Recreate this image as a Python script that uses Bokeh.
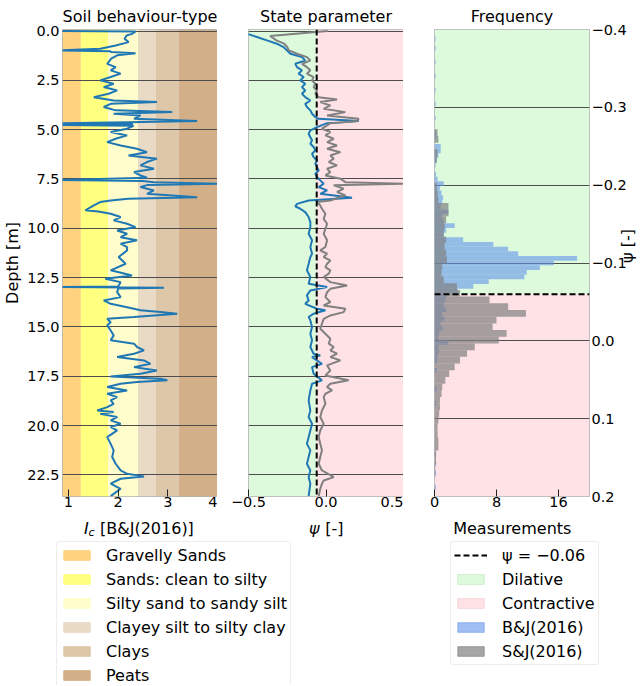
import math
from bokeh.plotting import figure
from bokeh.models import (Range1d, FixedTicker, Label, Legend, LegendItem,
                          CustomJSTickFormatter, Span)
from bokeh.layouts import row, column
from bokeh.embed import file_html
from bokeh.resources import INLINE

FONT = "DejaVu Sans"

# ---------------------------------------------------------------- data
IC_DEPTH = [0.00, 0.02, 0.14, 0.22, 0.39, 0.56, 0.73, 0.90, 0.98, 1.02, 1.06, 1.12, 1.23, 1.40,
            1.66, 1.83, 1.99, 2.16, 2.33, 2.50, 2.67, 2.84, 3.01, 3.18, 3.35, 3.52, 3.60, 3.69,
            3.85, 4.02, 4.10, 4.19, 4.28, 4.45, 4.56, 4.62, 4.68, 4.72, 4.76, 4.80, 4.95, 5.12,
            5.29, 5.46, 5.63, 5.80, 5.97, 6.14, 6.31, 6.47, 6.64, 6.81, 6.98, 7.15, 7.32, 7.44,
            7.55, 7.60, 7.66, 7.74, 7.80, 7.91, 8.08, 8.25, 8.42, 8.50, 8.59, 8.67, 8.84, 9.09,
            9.15, 9.26, 9.43, 9.60, 9.77, 9.94, 10.11, 10.28, 10.45, 10.61, 10.78, 10.95, 11.12,
            11.46, 11.80, 12.13, 12.39, 12.56, 12.73, 12.95, 12.98, 13.01, 13.05, 13.24, 13.49,
            13.66, 13.83, 14.00, 14.16, 14.25, 14.33, 14.50, 14.59, 14.76, 14.92, 15.18, 15.43,
            15.68, 15.85, 16.02, 16.19, 16.36, 16.53, 16.70, 16.87, 17.04, 17.21, 17.38, 17.51,
            17.63, 17.71, 17.80, 17.88, 18.05, 18.22, 18.39, 18.56, 18.73, 18.90, 19.07, 19.24,
            19.32, 19.41, 19.57, 19.74, 19.91, 20.08, 20.25, 20.59, 20.93, 21.26, 21.60, 21.94,
            22.28, 22.45, 22.58, 22.70, 22.95, 23.21, 23.58]
IC_VALUE = [0.80, 2.35, 2.28, 2.17, 2.13, 2.21, 1.95, 1.64, 0.85, 1.85, 1.85, 2.35, 1.98, 1.86,
            1.78, 1.95, 1.85, 2.05, 1.85, 1.64, 1.91, 1.71, 1.98, 1.81, 1.51, 1.91, 2.78, 1.85,
            1.71, 1.95, 3.09, 1.91, 2.45, 2.32, 3.59, 2.20, 0.85, 2.30, 0.85, 2.31, 2.18, 1.85,
            2.18, 1.95, 1.78, 2.05, 2.38, 2.58, 2.21, 2.78, 2.58, 2.45, 2.72, 2.32, 2.45, 2.58,
            0.85, 2.50, 2.72, 4.05, 2.60, 2.45, 2.72, 2.58, 3.59, 2.20, 1.85, 1.64, 1.51, 1.34,
            1.60, 1.85, 2.05, 1.91, 2.18, 2.35, 1.98, 2.18, 2.05, 2.38, 2.05, 2.18, 2.18,
            2.01, 2.15, 1.85, 2.28, 1.74, 2.05, 2.00, 0.85, 2.92, 2.00, 1.98, 2.05,
            1.71, 1.85, 2.18, 2.45, 2.85, 3.19, 2.32, 1.78, 1.85, 1.78, 1.85, 1.91,
            1.85, 2.32, 2.38, 2.52, 2.32, 1.98, 2.52, 2.65, 2.32, 2.78, 2.45, 1.85,
            2.85, 2.99, 2.38, 2.05, 1.78, 2.18, 1.78, 1.98, 1.85, 1.91, 1.78, 1.58,
            1.91, 1.64, 1.98, 1.85, 2.05, 1.85, 1.98, 1.78, 1.85, 1.91, 1.88, 1.95,
            2.05, 2.18, 2.52, 2.05, 1.85, 2.05, 1.85]

PSI_BJ_DEPTH = [0.10, 0.30, 0.47, 0.64, 0.81, 0.98, 1.15, 1.32, 1.49, 1.66, 1.83, 1.99, 2.16,
                2.33, 2.50, 2.67, 2.84, 3.01, 3.18, 3.35, 3.52, 3.69, 3.85, 4.02, 4.19, 4.36,
                4.45, 4.56, 4.67, 4.87, 5.04, 5.21, 5.38, 5.54, 5.71, 5.88, 6.05, 6.22, 6.39,
                6.56, 6.73, 6.90, 7.07, 7.23, 7.40, 7.57, 7.74, 7.91, 8.08, 8.25, 8.45, 8.59,
                8.76, 8.89, 9.01, 9.18, 9.43, 9.69, 9.94, 10.28, 10.61, 10.95, 11.29, 11.46,
                11.80, 12.13, 12.47, 12.81, 12.98, 13.15, 13.40, 13.66, 13.83, 14.08, 14.16,
                14.33, 14.50, 14.67, 15.01, 15.35, 15.68, 16.02, 16.36, 16.45, 16.53, 16.87,
                17.04, 17.38, 17.71, 17.88, 18.22, 18.73, 19.24, 19.57, 19.91, 20.25, 20.59,
                20.93, 21.26, 21.60, 21.94, 22.28, 22.62, 22.95, 23.58]
PSI_BJ = [-0.52, -0.446, -0.381, -0.317, -0.274, -0.252, -0.230, -0.155, -0.134, -0.198, -0.187,
          -0.155, -0.177, -0.144, -0.166, -0.134, -0.155, -0.134, -0.155, -0.134, -0.101, -0.134,
          -0.123, -0.101, -0.090, -0.069, -0.047, 0.211, 0.007, -0.058, -0.101, -0.112, -0.101,
          -0.090, -0.101, -0.080, -0.069, -0.090, -0.080, -0.058, -0.069, -0.058, -0.047, -0.069,
          -0.058, -0.037, -0.015, -0.047, 0.007, -0.037, 0.168, -0.112, -0.187, -0.198, -0.166,
          -0.134, -0.112, -0.101, -0.101, -0.112, -0.090, -0.101, -0.090, -0.101, -0.112, -0.123,
          -0.101, -0.112, 0.007, -0.101, -0.123, -0.112, -0.134, -0.058, -0.004, -0.080, -0.112,
          -0.101, -0.090, -0.101, -0.090, -0.101, -0.080, -0.037, -0.090, -0.026, -0.090, -0.080,
          -0.026, -0.090, -0.101, -0.112, -0.101, -0.112, -0.090, -0.101, -0.112, -0.123, -0.101,
          -0.112, -0.123, -0.101, -0.112, -0.101, -0.112]

PSI_SJ_DEPTH = [0.00, 0.25, 0.47, 0.64, 0.81, 0.98, 1.15, 1.32, 1.49, 1.66, 1.83, 1.99, 2.16,
                2.33, 2.50, 2.67, 2.84, 3.01, 3.18, 3.35, 3.47, 3.60, 3.77, 3.94, 4.11, 4.28,
                4.45, 4.56, 4.67, 4.78, 4.95, 5.12, 5.29, 5.46, 5.63, 5.80, 5.97, 6.14, 6.31,
                6.47, 6.64, 6.81, 6.98, 7.15, 7.32, 7.49, 7.66, 7.74, 7.82, 7.99, 8.16, 8.33,
                8.50, 8.59, 8.67, 8.84, 9.01, 9.26, 9.52, 9.77, 10.03, 10.28, 10.61, 10.95,
                11.12, 11.29, 11.46, 11.63, 11.80, 11.97, 12.13, 12.30, 12.47, 12.73, 12.90,
                13.07, 13.24, 13.49, 13.74, 13.91, 14.08, 14.25, 14.42, 14.59, 14.84, 15.09,
                15.35, 15.60, 15.85, 16.02, 16.19, 16.36, 16.53, 16.70, 16.95, 17.21, 17.46,
                17.71, 17.88, 18.05, 18.22, 18.39, 18.56, 18.90, 19.24, 19.57, 19.91, 20.25,
                20.59, 20.93, 21.26, 21.60, 21.94, 22.28, 22.62, 22.79, 22.95, 23.21, 23.58]
PSI_SJ = [0.01, -0.36, -0.32, -0.27, -0.25, -0.24, -0.187, -0.123, -0.101, -0.155, -0.123,
          -0.101, -0.123, -0.080, -0.090, -0.069, -0.080, -0.058, -0.069, -0.047, 0.071, -0.037,
          0.028, -0.015, 0.125, 0.007, 0.211, 0.200, 0.028, 0.007, -0.026, 0.028, -0.004, 0.050,
          0.007, 0.071, 0.007, 0.093, 0.028, 0.050, 0.018, 0.071, 0.007, 0.028, -0.004, 0.093,
          0.125, 0.52, 0.050, 0.114, 0.071, 0.125, 0.060, 0.028, -0.058, -0.037, -0.026, -0.004,
          -0.015, 0.007, -0.004, -0.015, 0.007, -0.004, -0.037, 0.007, -0.015, 0.028, 0.007,
          -0.004, 0.028, 0.018, -0.015, 0.028, 0.136, 0.028, 0.007, -0.004, 0.028, -0.015, 0.125,
          0.114, 0.028, -0.015, -0.026, -0.037, -0.004, 0.028, 0.018, 0.050, 0.028, 0.071, 0.028,
          0.093, 0.007, 0.028, -0.004, 0.146, 0.028, 0.007, 0.039, -0.004, -0.015, -0.004,
          -0.026, -0.037, -0.015, -0.037, -0.047, -0.037, -0.026, -0.037, -0.047, -0.026, 0.050,
          -0.015, -0.026, -0.037, -0.047]

BJ_BIN_WIDTH = 0.006
BJ_BIN_START = [-0.391, -0.379, -0.361, -0.343, -0.325, -0.307, -0.289, -0.271, -0.265, -0.253,
                -0.247, -0.241, -0.235, -0.229, -0.217, -0.211, -0.205, -0.199, -0.193, -0.187,
                -0.181, -0.175, -0.169, -0.163, -0.157, -0.151, -0.145, -0.139, -0.133, -0.127,
                -0.121, -0.115, -0.109, -0.103, -0.097, -0.091, -0.085, -0.079, -0.073, -0.067,
                -0.061, -0.055, -0.049, -0.043, -0.037, -0.031, -0.025, -0.019, -0.013, -0.007,
                -0.001, 0.005, 0.011, 0.017, 0.023, 0.035, 0.059, 0.077, 0.143, 0.155, 0.167,
                0.185]
BJ_COUNT = [0.15, 0.15, 0.15, 0.15, 0.15, 0.15, 0.15, 0.2, 0.2, 0.8,
            0.8, 0.5, 0.3, 0.15, 0.2, 0.4, 1.2, 0.7, 0.9, 1.1,
            1.0, 0.8, 1.8, 1.0, 1.2, 2.6, 1.5, 1.2, 3.7, 7.6,
            9.5, 10.8, 18.4, 15.4, 13.6, 11.9, 11.6, 7.0, 5.0, 3.0,
            1.6, 1.4, 1.2, 1.5, 1.0, 1.3, 0.8, 1.0, 0.6, 0.5,
            1.8, 0.5, 0.6, 0.4, 0.3, 0.3, 0.3, 0.2, 0.2, 0.2, 0.2,
            0.2]

SJ_BIN_WIDTH = 0.0086
SJ_BIN_START = [-0.2718, -0.2632, -0.246, -0.2374, -0.203, -0.1944, -0.1858, -0.1772, -0.1686,
                -0.16, -0.1514, -0.1428, -0.1342, -0.1256, -0.117, -0.1084, -0.0998, -0.0912,
                -0.0826, -0.074, -0.0654, -0.0568, -0.0482, -0.0396, -0.031, -0.0224, -0.0138,
                -0.0052, 0.0034, 0.012, 0.0206, 0.0292, 0.0378, 0.0464, 0.055, 0.0636, 0.0722,
                0.0808, 0.0894, 0.098, 0.1066, 0.1152, 0.1238, 0.1324, 0.141, 0.1496, 0.1582,
                0.1668]
SJ_COUNT = [0.4, 0.5, 0.4, 0.3, 0.3, 0.4, 0.5, 1.8, 1.8,
            1.5, 1.3, 1.2, 1.5, 1.3, 1.5, 1.6, 1.0, 0.9,
            1.2, 2.9, 3.3, 7.1, 9.5, 11.8, 8.0, 7.5, 9.3,
            8.3, 5.2, 4.2, 3.3, 2.6, 1.9, 1.4, 1.0, 0.9, 0.7,
            0.7, 0.6, 0.5, 0.4, 0.4, 0.5, 0.5, 0.2, 0.2, 0.1,
            0.1]

SBT_NAMES = ["Gravelly Sands", "Sands: clean to silty", "Silty sand to sandy silt",
             "Clayey silt to silty clay", "Clays", "Peats"]
SBT_LIMITS = [1.25, 1.80, 2.40, 2.76, 3.22]
SBT_COLORS = ["#FFD27F", "#FFFF80", "#FFFDCC", "#E8DAC4", "#DEC7A8", "#D2AF87"]

PSI_BOUNDARY = -0.06
DEPTH_TICKS = [0.0, 2.5, 5.0, 7.5, 10.0, 12.5, 15.0, 17.5, 20.0, 22.5]
IC_TICKS = [1, 2, 3, 4]
PSI_TICKS = [-0.5, 0.0, 0.5]
COUNT_TICKS = [0, 8, 16]
PSI_HIST_TICKS = [-0.4, -0.3, -0.2, -0.1, 0.0, 0.1, 0.2]

DEPTH_RANGE = (-0.08, 23.6)
IC_RANGE = (0.88, 4.0)
PSI_RANGE = (-0.5, 0.5)
COUNT_RANGE = (0, 20)
PSI_HIST_RANGE = (-0.4, 0.2)

# ---------------------------------------------------------------- style
GREEN = "#DDFADD"
PINK = "#FFE2E5"
LINE_BLUE = "#1f77b4"
GRID = "#4d4d4d"
OUTLINE = "#b0b0b0"
FRAME_W, FRAME_H = 155, 467
TOP, BOTTOM = 29, 17
TICK_FS = "14.5px"
LABEL_FS = "16px"
fmt1 = CustomJSTickFormatter(code="return tick.toFixed(1).replace('-', '\\u2212');")


def base_fig(xr, yr, left, right, title, y_loc="left"):
    p = figure(frame_width=FRAME_W, frame_height=FRAME_H,
               x_range=Range1d(*xr), y_range=Range1d(*yr),
               output_backend="svg", toolbar_location=None,
               min_border_left=left, min_border_right=right,
               min_border_top=TOP, min_border_bottom=BOTTOM,
               y_axis_location=y_loc, title=title)
    p.title.align = "center"
    p.title.text_font = FONT
    p.title.text_font_size = LABEL_FS
    p.title.text_font_style = "normal"
    p.title.text_color = "black"
    p.title.standoff = 7
    p.outline_line_color = OUTLINE
    p.outline_line_width = 1
    p.xgrid.visible = False
    p.ygrid.grid_line_color = GRID
    p.ygrid.grid_line_width = 1
    p.background_fill_color = "white"
    for ax in p.xaxis:
        ax.major_tick_in = 7
        ax.major_tick_out = 0
        ax.minor_tick_line_color = None
        ax.major_tick_line_color = "#222222"
        ax.axis_line_color = None
        ax.major_label_standoff = 0
        ax.major_label_text_font = FONT
        ax.major_label_text_font_size = TICK_FS
        ax.major_label_text_color = "black"
    for ax in p.yaxis:
        ax.major_tick_in = 0
        ax.major_tick_out = 0
        ax.minor_tick_line_color = None
        ax.axis_line_color = None
        ax.major_label_standoff = 3
        ax.major_label_text_font = FONT
        ax.major_label_text_font_size = TICK_FS
        ax.major_label_text_color = "black"
        ax.axis_label_text_font = FONT
        ax.axis_label_text_font_size = LABEL_FS
        ax.axis_label_text_font_style = "normal"
        ax.axis_label_text_color = "black"
    return p


# ---------------------------------------------------------------- panel 1
p1 = base_fig(IC_RANGE, (DEPTH_RANGE[1], DEPTH_RANGE[0]), 62, 0, "Soil behaviour-type")
sbt_left = [IC_RANGE[0]] + SBT_LIMITS
sbt_right = SBT_LIMITS + [IC_RANGE[1]]
p1.quad(left=sbt_left, right=sbt_right, bottom=DEPTH_RANGE[1], top=DEPTH_RANGE[0],
        fill_color=SBT_COLORS, line_color=None, level="image")
p1.line(IC_VALUE, IC_DEPTH, line_color=LINE_BLUE, line_width=2)
p1.xaxis.ticker = FixedTicker(ticks=IC_TICKS)
p1.yaxis.ticker = FixedTicker(ticks=DEPTH_TICKS)
p1.ygrid.ticker = FixedTicker(ticks=DEPTH_TICKS)
p1.yaxis.formatter = fmt1
p1.yaxis.axis_label = "Depth [m]"
p1.yaxis.axis_label_standoff = 2

# ---------------------------------------------------------------- panel 2
p2 = base_fig(PSI_RANGE, (DEPTH_RANGE[1], DEPTH_RANGE[0]), 31, 0, "State parameter")
p2.yaxis.visible = False
p2.quad(left=[PSI_RANGE[0], PSI_BOUNDARY], right=[PSI_BOUNDARY, PSI_RANGE[1]],
        bottom=DEPTH_RANGE[1], top=DEPTH_RANGE[0], fill_color=[GREEN, PINK],
        line_color=None, level="image")
p2.line(PSI_BJ, PSI_BJ_DEPTH, line_color=LINE_BLUE, line_width=2)
p2.line(PSI_SJ, PSI_SJ_DEPTH, line_color="gray", line_width=2)
p2.add_layout(Span(location=PSI_BOUNDARY, dimension="height", line_color="black",
                   line_width=2, line_dash="6 3"))
p2.xaxis.ticker = FixedTicker(ticks=PSI_TICKS)
p2.xaxis.formatter = fmt1
p2.ygrid.ticker = FixedTicker(ticks=DEPTH_TICKS)

# ---------------------------------------------------------------- panel 3
p3 = base_fig(COUNT_RANGE, (PSI_HIST_RANGE[1], PSI_HIST_RANGE[0]), 31, 52, "Frequency",
              y_loc="right")
p3.quad(left=COUNT_RANGE[0], right=COUNT_RANGE[1],
        bottom=[PSI_HIST_RANGE[0], PSI_BOUNDARY], top=[PSI_BOUNDARY, PSI_HIST_RANGE[1]],
        fill_color=[GREEN, PINK], line_color=None, level="image")
bj_top = [b + BJ_BIN_WIDTH for b in BJ_BIN_START]
sj_top = [b + SJ_BIN_WIDTH for b in SJ_BIN_START]
p3.quad(left=0, right=BJ_COUNT, bottom=BJ_BIN_START, top=bj_top,
        fill_color="#6495ED", fill_alpha=0.6, line_color=None)
p3.quad(left=0, right=SJ_COUNT, bottom=SJ_BIN_START, top=sj_top,
        fill_color="#808080", fill_alpha=0.7, line_color=None)
p3.add_layout(Span(location=PSI_BOUNDARY, dimension="width", line_color="black",
                   line_width=2, line_dash="6 3"))
p3.xaxis.ticker = FixedTicker(ticks=COUNT_TICKS)
p3.yaxis.ticker = FixedTicker(ticks=PSI_HIST_TICKS)
p3.ygrid.ticker = FixedTicker(ticks=PSI_HIST_TICKS)
p3.yaxis.formatter = fmt1
p3.yaxis.major_label_standoff = 2
p3.yaxis.axis_label = "ψ [-]"
p3.yaxis.axis_label_standoff = -2
p3.yaxis.axis_label_orientation = math.pi / 2

# ---------------------------------------------------------------- x-axis label strip
STRIP_W, STRIP_H = 641, 28
strip = figure(width=STRIP_W, height=STRIP_H, x_range=Range1d(0, STRIP_W),
               y_range=Range1d(STRIP_H, 0), output_backend="svg", toolbar_location=None,
               x_axis_location=None, y_axis_location=None, min_border_left=0,
               min_border_right=0, min_border_top=0, min_border_bottom=0)
strip.outline_line_color = None
strip.grid.visible = False


def add_label(x, text, size=LABEL_FS, style="normal", dy=0, align="left"):
    strip.add_layout(Label(x=x, y=15.0 + dy, text=text, text_align=align,
                           text_baseline="alphabetic", text_font=FONT,
                           text_font_size=size, text_font_style=style, text_color="black"))


add_label(83.4, "I", style="italic")
add_label(88.1, "c", size="11px", style="italic", dy=3.5)
add_label(99.5, "[B&J(2016)]")
add_label(308.4, "ψ", style="italic")
add_label(324.7, "[-]")
add_label(511.8, "Measurements", align="center")


# ---------------------------------------------------------------- legends
def legend_fig(width, left, height):
    p = figure(width=width, height=height, x_range=Range1d(0, 1), y_range=Range1d(0, 1),
               output_backend="svg", toolbar_location=None,
               x_axis_location=None, y_axis_location=None,
               min_border_left=left, min_border_right=0, min_border_top=0,
               min_border_bottom=0)
    p.outline_line_color = None
    p.grid.visible = False
    return p


def make_legend(items, standoff):
    return Legend(items=items, location="top_left", margin=0, padding=3, spacing=4,
                  label_height=20, glyph_height=12, glyph_width=33, label_standoff=standoff,
                  label_text_font=FONT, label_text_font_size=LABEL_FS,
                  label_text_color="black", border_line_color="#dcdcdc",
                  border_line_width=1, border_radius=3, background_fill_alpha=1)


LEG_H = 685 - (TOP + FRAME_H + BOTTOM) - STRIP_H
# legend-key renderers: their data sit outside the (0, 1) ranges, only the keys show
OFF = [2.0]
OFF2 = [3.0]

lg1 = legend_fig(440, 56, LEG_H)
items1 = []
for name, col in zip(SBT_NAMES, SBT_COLORS):
    r = lg1.quad(left=OFF, right=OFF2, bottom=OFF, top=OFF2, fill_color=col, line_color=col)
    items1.append(LegendItem(label=name, renderers=[r]))
lg1.add_layout(make_legend(items1, 13))

lg2 = legend_fig(201, 10, LEG_H)
r_dash = lg2.line(x=OFF + OFF2, y=OFF + OFF2, line_color="black", line_width=2,
                  line_dash="6 3")
r_dil = lg2.quad(left=OFF, right=OFF2, bottom=OFF, top=OFF2, fill_color=GREEN,
                 line_color="#cdeccd")
r_con = lg2.quad(left=OFF, right=OFF2, bottom=OFF, top=OFF2, fill_color=PINK,
                 line_color="#f5d5d9")
r_bj = lg2.quad(left=OFF, right=OFF2, bottom=OFF, top=OFF2, fill_color="#6495ED",
                fill_alpha=0.6, line_color="#6495ED", line_alpha=0.6)
r_sj = lg2.quad(left=OFF, right=OFF2, bottom=OFF, top=OFF2, fill_color="#808080",
                fill_alpha=0.7, line_color="#808080", line_alpha=0.7)
items2 = [LegendItem(label="ψ = −0.06", renderers=[r_dash]),
          LegendItem(label="Dilative", renderers=[r_dil]),
          LegendItem(label="Contractive", renderers=[r_con]),
          LegendItem(label="B&J(2016)", renderers=[r_bj]),
          LegendItem(label="S&J(2016)", renderers=[r_sj])]
lg2.add_layout(make_legend(items2, 15))

layout = column(row(p1, p2, p3), strip, row(lg1, lg2))
open("out.html", "w").write(file_html(layout, INLINE))
